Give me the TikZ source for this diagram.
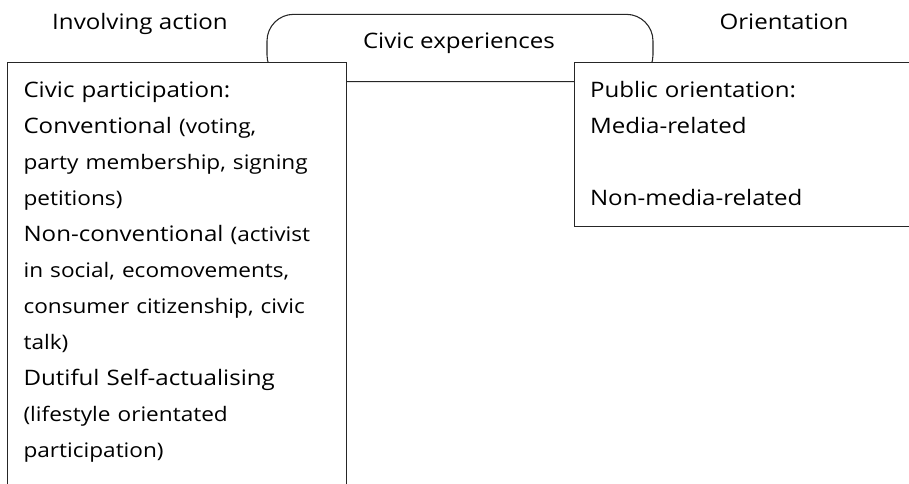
\documentclass[tikz,border=0pt]{standalone}
\usepackage{fontspec}
\setmainfont{Open Sans}[FakeStretch=1.13]
\newcommand{\sm}[1]{{\fontsize{15}{27}\selectfont #1}}
\tikzset{
	big/.style={font=\fontsize{16}{27}\selectfont},
	frame/.style={draw=black!85, line width=0.8pt},
	box/.style={frame, fill=white, big, anchor=north west, align=left, inner xsep=12pt, inner ysep=7.35pt},
}
\begin{document}
\begin{tikzpicture}[x=0.75pt, y=-0.75pt]

		\useasboundingbox (0,0) rectangle (909,483);
		\clip (0,0) rectangle (909,483);

		\node[frame, rounded corners=20pt, minimum width=289.5pt, minimum height=50.5pt] (exp) at (460,48) {};
		\node[big, anchor=base] (explabel) at (459,48) {Civic experiences};

		\node[big, anchor=base] (involving) at (140,29) {Involving action};
		\node[big, anchor=base] (orient) at (784,29) {Orientation};

		\node[box, text width=230.25pt] (particip) at (7,62) {\strut Civic participation:\\
			Conventional \sm{(voting,}\\
			\sm{party membership, signing}\\
			\sm{petitions)}\\
			Non-conventional \sm{(activist}\\
			\sm{in social, ecomovements,}\\
			\sm{consumer citizenship, civic}\\
			\sm{talk)}\\
			Dutiful Self-actualising\\
			\sm{(lifestyle orientated}\\
			\sm{participation)}\rule[-40pt]{0pt}{40pt}\par};

		\node[box, text width=260pt] (public) at (573.5,62) {\strut Public orientation:\\
			Media-related\\
			\mbox{}\\
			Non-media-related\strut\par};

\end{tikzpicture}
\end{document}
